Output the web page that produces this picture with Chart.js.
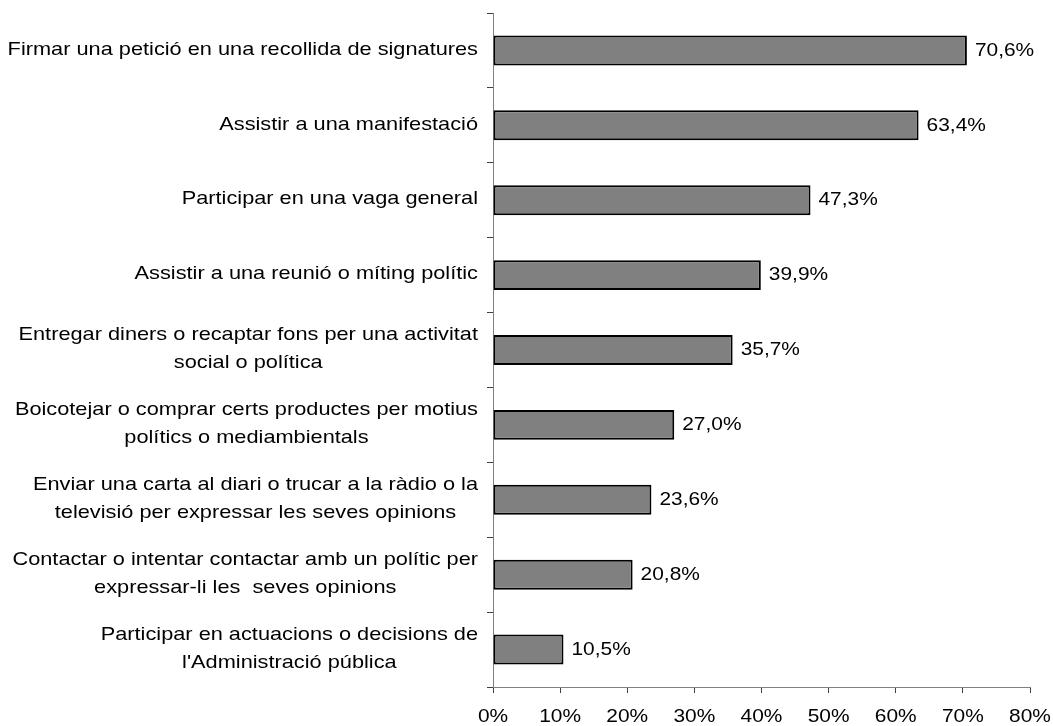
<!DOCTYPE html>
<html>
<head>
<meta charset="utf-8">
<script src="https://cdn.jsdelivr.net/npm/chart.js@4.4.1/dist/chart.umd.min.js"></script>
<style>
  body { margin: 0; background: #fff; }
  #wrap { width: 1053px; height: 726px; position: relative; }
</style>
</head>
<body>
<div id="wrap"><canvas id="chart"></canvas></div>
<script>
// categories (multi-line ones split as in the original)
const categories = [
  "Firmar una petició en una recollida de signatures",
  "Assistir a una manifestació",
  "Participar en una vaga general",
  "Assistir a una reunió o míting polític",
  ["Entregar diners o recaptar fons per una activitat", "social o política"],
  ["Boicotejar o comprar certs productes per motius", "polítics o mediambientals"],
  ["Enviar una carta al diari o trucar a la ràdio o la", "televisió per expressar les seves opinions"],
  ["Contactar o intentar contactar amb un polític per", "expressar-li les  seves opinions"],
  ["Participar en actuacions o decisions de", "l'Administració pública"]
];
const values = [70.6, 63.4, 47.3, 39.9, 35.7, 27.0, 23.6, 20.8, 10.5];
const xTicks = [0, 10, 20, 30, 40, 50, 60, 70, 80];

const FAMILY = '"Liberation Sans", Arial, sans-serif';
const fmt = v => v.toFixed(1).replace('.', ',') + '%';

// text in the original is a bit wider than Arial, so stretch it slightly
const stretchText = (ctx, text, x, y, sx) => {
  ctx.save();
  ctx.translate(x, y);
  ctx.scale(sx, 1);
  ctx.fillText(text, 0, 0);
  ctx.restore();
};

// draws category labels (lines centred inside each block), value labels and x tick labels
const labelPlugin = {
  id: 'labelPlugin',
  afterDraw(chart) {
    const { ctx, scales: { x, y } } = chart;
    const SX = 1.145;
    ctx.save();
    ctx.fillStyle = '#000';
    ctx.textBaseline = 'middle';
    ctx.font = '19px ' + FAMILY;
    categories.forEach((lab, i) => {
      const lines = Array.isArray(lab) ? lab : [lab];
      const cy = y.getPixelForValue(i);
      const maxW = Math.max(...lines.map(l => ctx.measureText(l).width)) * SX;
      const cx = x.left - 15 - maxW / 2;
      ctx.textAlign = 'center';
      lines.forEach((l, j) => {
        stretchText(ctx, l, cx, cy + (j - (lines.length - 1) / 2) * 28 - 1, SX);
      });
      ctx.textAlign = 'left';
      stretchText(ctx, fmt(values[i]), x.getPixelForValue(values[i]) + 8, cy, 1.1);
    });
    ctx.textAlign = 'center';
    xTicks.forEach(v => {
      stretchText(ctx, v + '%', x.getPixelForValue(v), 717, 1.1);
    });
    ctx.restore();
  }
};

new Chart(document.getElementById('chart').getContext('2d'), {
  type: 'bar',
  data: {
    labels: categories,
    datasets: [{
      data: values,
      backgroundColor: '#808080',
      borderColor: '#000',
      borderWidth: 2,
      borderSkipped: false,
      barPercentage: 0.4,
      categoryPercentage: 1.0
    }]
  },
  options: {
    indexAxis: 'y',
    responsive: true,
    maintainAspectRatio: false,
    animation: false,
    layout: { padding: { top: 13, right: 23, bottom: 0, left: 0 } },
    plugins: { legend: { display: false }, tooltip: { enabled: false } },
    scales: {
      x: {
        min: 0,
        max: 80,
        afterFit: s => { s.height = 39; },
        afterBuildTicks: s => { s.ticks = xTicks.map(v => ({ value: v })); },
        border: { color: '#808080', width: 1 },
        grid: { drawOnChartArea: false, drawTicks: true, tickLength: 6, color: '#404040' },
        ticks: { display: false }
      },
      y: {
        afterFit: s => { s.width = 493; },
        border: { color: '#808080', width: 1 },
        grid: { drawOnChartArea: false, drawTicks: true, tickLength: 6, offset: true, color: '#404040' },
        ticks: { display: false }
      }
    }
  },
  plugins: [labelPlugin]
});
</script>
</body>
</html>
